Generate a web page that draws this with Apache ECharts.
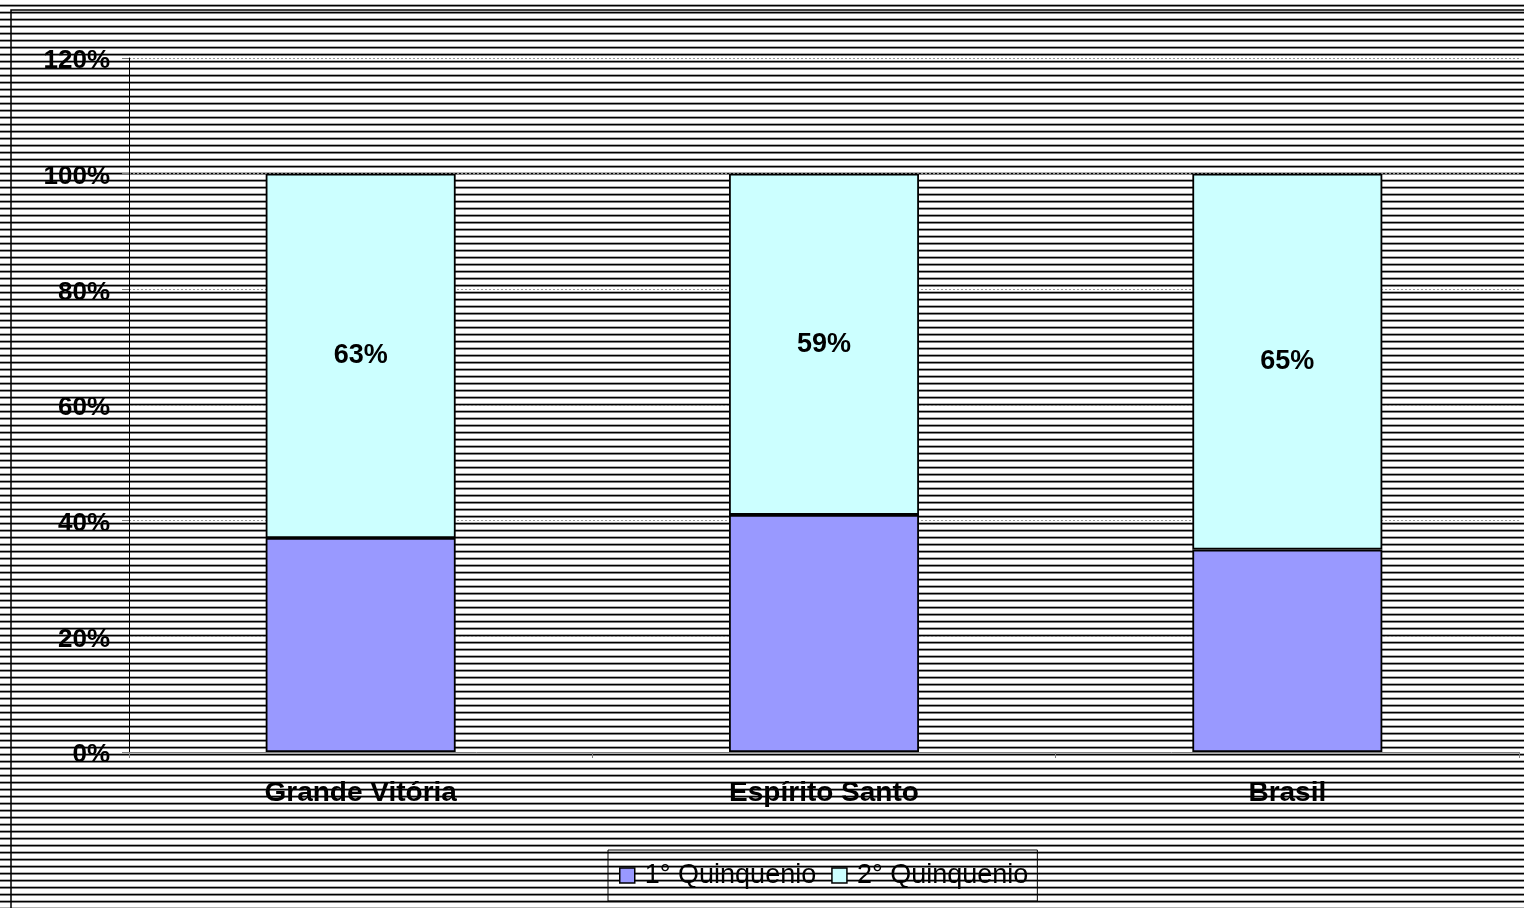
<!DOCTYPE html>
<html>
<head>
<meta charset="utf-8">
<script src="https://cdn.jsdelivr.net/npm/echarts@6/dist/echarts.min.js"></script>
<style>
  html, body { margin: 0; padding: 0; }
  #chart {
    width: 1524px;
    height: 908px;
    /* striped background like the Excel fill */
    background: repeating-linear-gradient(to bottom,
      #ffffff 0px, #ffffff 4px,
      #b0b0b0 4px, #b0b0b0 5px,
      #000000 5px, #000000 6px,
      #808080 6px, #808080 7px);
  }
</style>
</head>
<body>
<div id="chart"></div>
<script>
const categories = ['Grande Vitória', 'Espírito Santo', 'Brasil'];
const seriesNames = ['1° Quinquenio', '2° Quinquenio'];
const firstQuinq = [37, 41, 35];
const secondQuinq = [63, 59, 65];
const yTicks = { min: 0, max: 120, interval: 20 };

const font = "'Liberation Sans', Arial, sans-serif";

let myChart = echarts.init(document.getElementById('chart'));
let option = {
  backgroundColor: 'transparent',
  animation: false,
  graphic: [
    {
      // outer chart frame
      type: 'rect',
      z: -1,
      shape: { x: 11, y: 10, width: 1600, height: 1000 },
      style: { fill: 'none', stroke: '#000', lineWidth: 1.5 },
    },
  ],
  grid: {
    left: 129,
    right: 5,
    top: 58,
    bottom: 156,
  },
  legend: {
    left: 608,
    top: 850,
    padding: [12, 9, 12, 11],
    borderColor: '#000',
    borderWidth: 1,
    itemWidth: 15,
    itemHeight: 15,
    itemGap: 15,
    icon: 'rect',
    itemStyle: { borderColor: '#000', borderWidth: 1.5 },
    textStyle: {
      fontFamily: font,
      fontSize: 27,
      color: '#000',
      padding: [0, 0, 0, 5],
    },
    data: seriesNames,
  },
  xAxis: {
    type: 'category',
    data: categories,
    axisLine: { lineStyle: { color: '#808080', width: 1 } },
    axisTick: { show: true, length: 6, lineStyle: { color: '#808080' } },
    axisLabel: {
      margin: 27,
      fontFamily: font,
      fontSize: 28,
      fontWeight: 'bold',
      color: '#000',
    },
  },
  yAxis: {
    type: 'value',
    min: yTicks.min,
    max: yTicks.max,
    interval: yTicks.interval,
    axisLine: { show: true, lineStyle: { color: '#000', width: 1 } },
    axisTick: { show: true, length: 7, lineStyle: { color: '#808080' } },
    axisLabel: {
      formatter: '{p|{value}%}',
      margin: 19,
      color: '#000',
      rich: {
        // nudge labels a few px below the tick, as in the original
        p: {
          padding: [6, 0, 0, 0],
          fontFamily: font,
          fontSize: 26,
          fontWeight: 'bold',
          color: '#000',
        },
      },
    },
    splitLine: {
      show: true,
      lineStyle: { color: '#9a9a9a', type: [2, 2], width: 1 },
    },
  },
  series: [
    {
      name: seriesNames[0],
      type: 'bar',
      stack: 'total',
      barWidth: '41%',
      data: firstQuinq,
      itemStyle: { color: '#9999FF', borderColor: '#000', borderWidth: 1.8 },
    },
    {
      name: seriesNames[1],
      type: 'bar',
      stack: 'total',
      barWidth: '41%',
      data: secondQuinq,
      itemStyle: { color: '#CCFFFF', borderColor: '#000', borderWidth: 1.8 },
      label: {
        show: true,
        position: 'inside',
        formatter: '{c}%',
        fontFamily: font,
        fontSize: 27,
        fontWeight: 'bold',
        color: '#000',
      },
    },
  ],
};
myChart.setOption(option, true);
</script>
</body>
</html>
